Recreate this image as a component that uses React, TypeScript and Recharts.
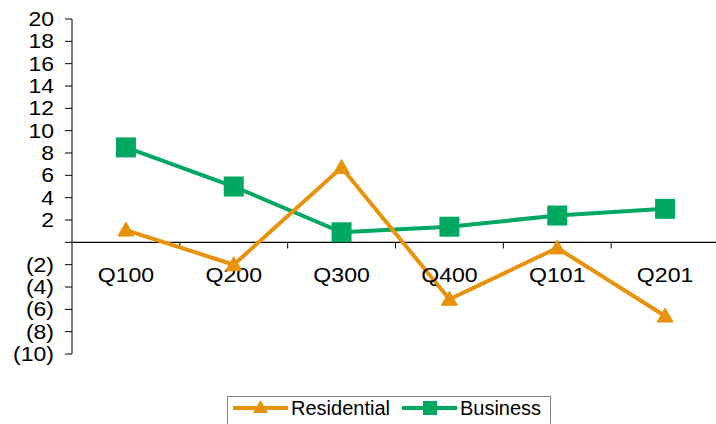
import React from 'react';
import {
  LineChart,
  Line,
  XAxis,
  YAxis,
  ReferenceLine,
  ReferenceDot,
  Legend,
} from 'recharts';

// Quarterly growth by customer segment
const quarters = ['Q100', 'Q200', 'Q300', 'Q400', 'Q101', 'Q201'];
const residential = [1.1, -2.0, 6.7, -5.1, -0.5, -6.6];
const business = [8.5, 5.0, 0.9, 1.4, 2.4, 3.0];
const yTicks = [-10, -8, -6, -4, -2, 0, 2, 4, 6, 8, 10, 12, 14, 16, 18, 20];
const seriesNames = { residential: 'Residential', business: 'Business' };

const ORANGE = '#E8920A';
const GREEN = '#00A862';
const FONT = '"Liberation Sans", Arial, Helvetica, sans-serif';

// Each quarter sits in the middle of a unit-wide slot on a numeric x scale,
// so slot boundaries (integers) can carry the category tick marks.
const rows = quarters.map((q, i) => ({
  pos: i + 0.5,
  quarter: q,
  residential: residential[i],
  business: business[i],
}));
const boundaries = quarters.map((_, i) => i + 1);

const formatY = (v: number) => (v === 0 ? '' : v < 0 ? `(${-v})` : `${v}`);

// Axis text is set slightly wide, like the spreadsheet original
const YTick = (props: any) => {
  const { x, y, payload } = props;
  return (
    <g transform={`translate(${x},${y})`}>
      <text
        transform="scale(1.15,1)"
        textAnchor="end"
        dy="0.355em"
        fill="#000"
        fontSize={20}
        fontFamily={FONT}
      >
        {formatY(payload.value)}
      </text>
    </g>
  );
};

const QuarterLabel = (props: any) => {
  const { viewBox, value } = props;
  if (!viewBox) return null;
  const cx = viewBox.x + (viewBox.width || 0) / 2;
  const top = viewBox.y + (viewBox.height || 0) + 25;
  return (
    <g transform={`translate(${cx},${top})`}>
      <text
        transform="scale(1.1,1)"
        textAnchor="middle"
        dy="0.71em"
        fill="#000"
        fontSize={21}
        fontFamily={FONT}
      >
        {value}
      </text>
    </g>
  );
};

const TriangleDot = (props: any) => {
  const { cx, cy, index } = props;
  if (cx == null || cy == null) return <g key={`t-${index}`} />;
  return (
    <polygon
      key={`t-${index}`}
      points={`${cx},${cy - 8} ${cx + 8},${cy + 6} ${cx - 8},${cy + 6}`}
      fill={ORANGE}
      stroke={ORANGE}
      strokeWidth={1}
    />
  );
};

const SquareDot = (props: any) => {
  const { cx, cy, index } = props;
  if (cx == null || cy == null) return <g key={`s-${index}`} />;
  return (
    <rect
      key={`s-${index}`}
      x={cx - 10}
      y={cy - 10}
      width={20}
      height={20}
      fill={GREEN}
    />
  );
};

const LegendBox = () => (
  <div
    style={{
      position: 'relative',
      width: 324,
      height: 30,
      boxSizing: 'border-box',
      border: '1px solid #7f7f7f',
      borderBottom: 'none',
      background: '#fff',
      fontFamily: FONT,
      fontSize: 20,
      color: '#000',
    }}
  >
    <div
      style={{
        position: 'absolute',
        top: 1,
        left: 5,
        display: 'flex',
        alignItems: 'center',
        height: 20,
        whiteSpace: 'nowrap',
      }}
    >
      <svg width={55} height={16} style={{ display: 'block' }}>
        <line x1={0} y1={8} x2={55} y2={8} stroke={ORANGE} strokeWidth={4} />
        <polygon points="27.5,0 35,13 20,13" fill={ORANGE} />
      </svg>
      <span style={{ marginLeft: 3, lineHeight: '20px' }}>{seriesNames.residential}</span>
      <svg width={55} height={16} style={{ display: 'block', marginLeft: 12 }}>
        <line x1={0} y1={8} x2={55} y2={8} stroke={GREEN} strokeWidth={4} />
        <rect x={21} y={1} width={14} height={14} fill={GREEN} />
      </svg>
      <span style={{ marginLeft: 3, lineHeight: '20px' }}>{seriesNames.business}</span>
    </div>
  </div>
);

export default function App() {
  return (
    <div
      style={{
        position: 'absolute',
        left: 0,
        top: 0,
        width: 716,
        height: 424,
        overflow: 'hidden',
        background: '#fff',
      }}
    >
      <LineChart
        width={719}
        height={424}
        data={rows}
        margin={{ top: 19, right: 0, bottom: 70, left: 0 }}
      >
        <XAxis type="number" dataKey="pos" domain={[0, 6]} hide />
        <YAxis
          type="number"
          domain={[-10, 20]}
          ticks={yTicks}
          interval={0}
          width={72}
          tickSize={7}
          tickMargin={11}
          axisLine={{ stroke: '#000', strokeWidth: 1 }}
          tickLine={{ stroke: '#000', strokeWidth: 1 }}
          tick={YTick}
        />
        <ReferenceLine y={0} stroke="#000" strokeWidth={1.2} />
        {boundaries.map((b) => (
          <ReferenceLine
            key={`b-${b}`}
            segment={[
              { x: b, y: 0 },
              { x: b, y: -0.55 },
            ]}
            stroke="#000"
            strokeWidth={1}
          />
        ))}
        {rows.map((r) => (
          <ReferenceDot
            key={`lbl-${r.quarter}`}
            x={r.pos}
            y={0}
            r={0}
            fill="none"
            stroke="none"
            label={<QuarterLabel value={r.quarter} />}
          />
        ))}
        <Line
          type="linear"
          dataKey="business"
          name={seriesNames.business}
          stroke={GREEN}
          strokeWidth={4}
          dot={SquareDot}
          activeDot={false}
          isAnimationActive={false}
        />
        <Line
          type="linear"
          dataKey="residential"
          name={seriesNames.residential}
          stroke={ORANGE}
          strokeWidth={4}
          dot={TriangleDot}
          activeDot={false}
          isAnimationActive={false}
        />
        <Legend
          verticalAlign="middle"
          align="center"
          content={<LegendBox />}
          wrapperStyle={{ top: 396, left: 227, width: 324, height: 30 }}
        />
      </LineChart>
    </div>
  );
}
